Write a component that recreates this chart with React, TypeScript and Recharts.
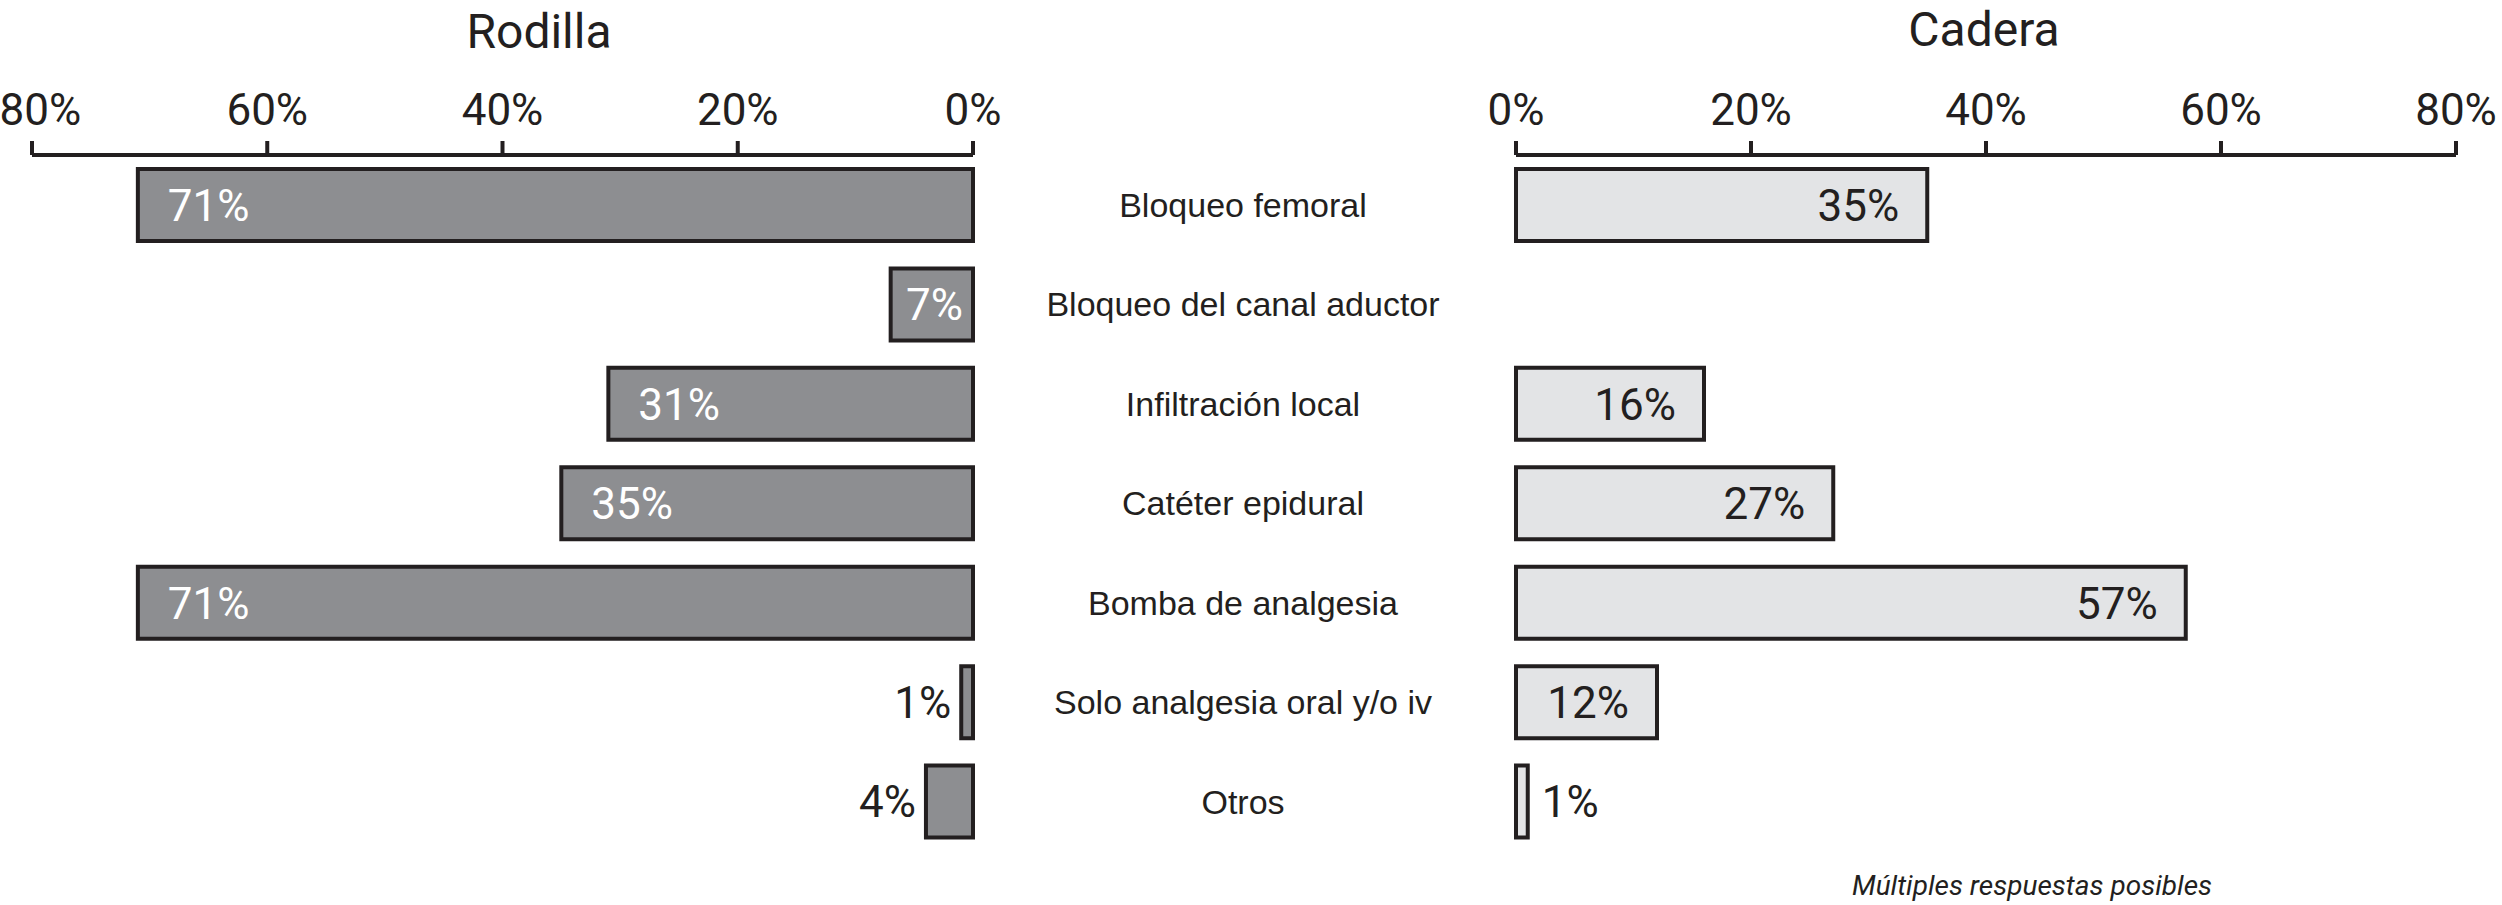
import { Bar, BarChart, LabelList, XAxis, YAxis } from "recharts";

const categories = [
  "Bloqueo femoral",
  "Bloqueo del canal aductor",
  "Infiltración local",
  "Catéter epidural",
  "Bomba de analgesia",
  "Solo analgesia oral y/o iv",
  "Otros",
];
const rodilla = [71, 7, 31, 35, 71, 1, 4];
const cadera = [35, null, 16, 27, 57, 12, 1];
const xTicks = [0, 20, 40, 60, 80];

const data = categories.map((name, i) => ({ name, rodilla: rodilla[i], cadera: cadera[i] }));

const INK = "#231f20";
const NUM_FONT = "Roboto, 'Liberation Sans Narrow', sans-serif";
const CAT_FONT = "'Liberation Sans', Arial, sans-serif";
const pct = (v: number) => `${v}%`;

function box(props: any) {
  const vb = props.viewBox ?? props;
  const { x, y, width, height } = vb;
  return { l: Math.min(x, x + width), r: Math.max(x, x + width), cy: y + height / 2 };
}

function LeftLabel(props: any) {
  const { value } = props;
  if (value == null) return null;
  const { l, r, cy } = box(props);
  let tx = l - 10;
  let anchor = "end";
  let fill = INK;
  if (value >= 10) {
    tx = l + 30;
    anchor = "start";
    fill = "#ffffff";
  } else if (value >= 5) {
    tx = r - 10;
    fill = "#ffffff";
  }
  return (
    <text x={tx} y={cy} dy="0.36em" textAnchor={anchor} fill={fill} fontSize={44} fontFamily={NUM_FONT}>
      {pct(value)}
    </text>
  );
}

function RightLabel(props: any) {
  const { value } = props;
  if (value == null) return null;
  const { r, cy } = box(props);
  const inside = value >= 10;
  return (
    <text
      x={inside ? r - 28 : r + 14}
      y={cy}
      dy="0.36em"
      textAnchor={inside ? "end" : "start"}
      fill={INK}
      fontSize={44}
      fontFamily={NUM_FONT}
    >
      {pct(value)}
    </text>
  );
}

function CategoryTick(props: any) {
  const { x, y, payload } = props;
  return (
    <text x={x} y={y} dy="0.36em" textAnchor="middle" fill={INK} fontSize={34} fontFamily={CAT_FONT}>
      {payload.value}
    </text>
  );
}

const axisTick = { fontSize: 44, fill: INK, fontFamily: NUM_FONT };

export default function App() {
  return (
    <div style={{ position: "absolute", left: 0, top: 0, width: 2502, height: 905, background: "#fff" }}>
      <div style={{ position: "absolute", left: 0, top: 0 }}>
        <BarChart
          width={1010}
          height={905}
          data={data}
          layout="vertical"
          margin={{ top: 0, right: 37, bottom: 54, left: 32 }}
        >
          <XAxis
            type="number"
            domain={[0, 80]}
            ticks={xTicks}
            reversed
            orientation="top"
            height={155}
            stroke={INK}
            strokeWidth={4}
            tickSize={14}
            tickMargin={16}
            tick={axisTick}
            tickFormatter={pct}
          />
          <YAxis type="category" dataKey="name" hide />
          <Bar dataKey="rodilla" fill="#8d8e91" stroke={INK} strokeWidth={4} barSize={72} isAnimationActive={false}>
            <LabelList dataKey="rodilla" content={LeftLabel} />
          </Bar>
        </BarChart>
      </div>
      <div style={{ position: "absolute", left: 1000, top: 0 }}>
        <BarChart
          width={1502}
          height={905}
          data={data}
          layout="vertical"
          margin={{ top: 0, right: 46, bottom: 54, left: 0 }}
        >
          <XAxis
            type="number"
            domain={[0, 80]}
            ticks={xTicks}
            orientation="top"
            height={155}
            stroke={INK}
            strokeWidth={4}
            tickSize={14}
            tickMargin={16}
            tick={axisTick}
            tickFormatter={pct}
          />
          <YAxis
            type="category"
            dataKey="name"
            width={516}
            axisLine={false}
            tickLine={false}
            tickSize={0}
            tickMargin={273}
            tick={CategoryTick}
          />
          <Bar dataKey="cadera" fill="#e3e4e6" stroke={INK} strokeWidth={4} barSize={72} isAnimationActive={false}>
            <LabelList dataKey="cadera" content={RightLabel} />
          </Bar>
        </BarChart>
      </div>
      <svg width={2502} height={905} style={{ position: "absolute", left: 0, top: 0, pointerEvents: "none" }}>
        <text x={539} y={48} textAnchor="middle" fill={INK} fontSize={48} fontFamily={NUM_FONT}>
          Rodilla
        </text>
        <text x={1984} y={46} textAnchor="middle" fill={INK} fontSize={48} fontFamily={NUM_FONT}>
          Cadera
        </text>
        <text x={2032} y={895} textAnchor="middle" fill={INK} fontSize={28} fontStyle="italic" fontFamily={NUM_FONT}>
          Múltiples respuestas posibles
        </text>
      </svg>
    </div>
  );
}
